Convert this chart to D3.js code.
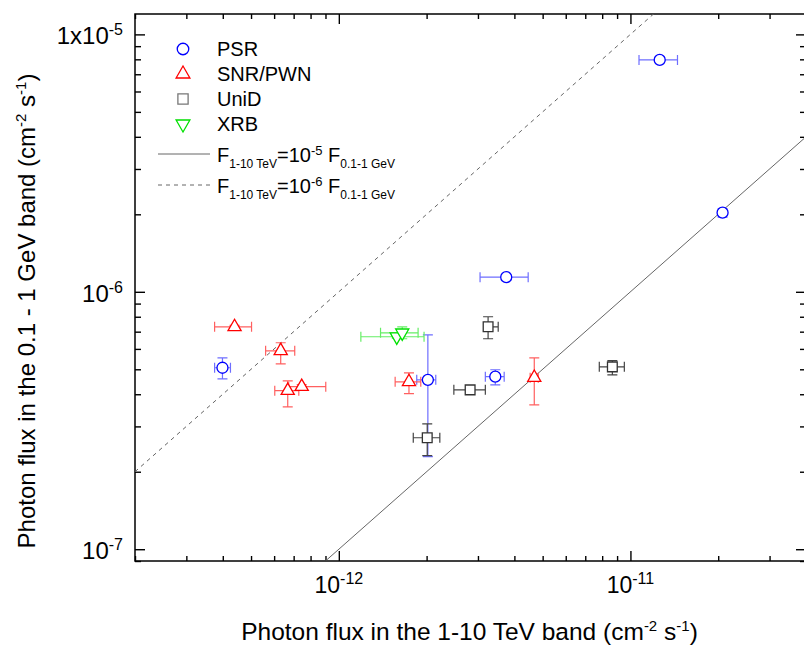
<!DOCTYPE html>
<html>
<head>
<meta charset="utf-8">
<script src="https://cdn.jsdelivr.net/npm/d3@7"></script>
<style>
  body { margin: 0; background: #fff; }
  text { font-family: "Liberation Sans", Arial, sans-serif; fill: #000; }
</style>
</head>
<body>
<svg id="chart" width="804" height="650"></svg>
<script>
// axis ranges
const xDomain = [2e-13, 4e-11];
const yDomain = [9e-8, 1.2e-5];
const xMajor = [1e-12, 1e-11];
const yMajor = [1e-7, 1e-6, 1e-5];
const xTickLabels = [["10", "-12"], ["10", "-11"]];
const yTickLabels = [["10", "-7"], ["10", "-6"], ["1x10", "-5"]];

// rows: [x, xLo, xHi, y, yLo, yHi]
const psr = [
  [1.26e-11, 1.07e-11, 1.45e-11, 7.96e-6, 7.75e-6, 8.2e-6],
  [2.07e-11, 2.02e-11, 2.12e-11, 2.03e-6, 1.95e-6, 2.1e-6],
  [3.75e-12, 3.05e-12, 4.46e-12, 1.14e-6, 1.11e-6, 1.17e-6],
  [3.44e-12, 3.18e-12, 3.69e-12, 4.68e-7, 4.35e-7, 4.98e-7],
  [2.02e-12, 1.85e-12, 2.15e-12, 4.55e-7, 2.29e-7, 6.8e-7],
  [3.99e-13, 3.75e-13, 4.25e-13, 5.07e-7, 4.59e-7, 5.54e-7]
];
const snrPwn = [
  [4.39e-13, 3.75e-13, 5.02e-13, 7.31e-7, 7.2e-7, 7.4e-7],
  [6.32e-13, 5.61e-13, 7.06e-13, 5.9e-7, 5.25e-7, 6.34e-7],
  [6.68e-13, 6.03e-13, 7.29e-13, 4.13e-7, 3.57e-7, 4.51e-7],
  [7.46e-13, 6.73e-13, 9.02e-13, 4.28e-7, 4.2e-7, 4.36e-7],
  [1.74e-12, 1.56e-12, 1.91e-12, 4.47e-7, 4.02e-7, 4.84e-7],
  [4.68e-12, 4.53e-12, 4.83e-12, 4.64e-7, 3.64e-7, 5.54e-7]
];
const unid = [
  [3.25e-12, 3.15e-12, 3.52e-12, 7.31e-7, 6.57e-7, 8.0e-7],
  [2.82e-12, 2.48e-12, 3.18e-12, 4.16e-7, 4.1e-7, 4.22e-7],
  [2.01e-12, 1.8e-12, 2.22e-12, 2.71e-7, 2.31e-7, 3.07e-7],
  [8.67e-12, 7.82e-12, 9.53e-12, 5.11e-7, 4.76e-7, 5.4e-7]
];
const xrb = [
  [1.58e-12, 1.19e-12, 1.96e-12, 6.69e-7, 6.6e-7, 6.78e-7],
  [1.65e-12, 1.39e-12, 1.87e-12, 6.93e-7, 6.57e-7, 7.31e-7]
];
// F(1-10 TeV) = ratio * F(0.1-1 GeV)
const refRatios = [1e-5, 1e-6];
const refExps = ["-5", "-6"];

const plotLeft = 135, plotRight = 806, plotTop = 14, plotBottom = 561;

const svg = d3.select("#chart");
const x = d3.scaleLog().domain(xDomain).range([plotLeft, plotRight]);
const y = d3.scaleLog().domain(yDomain).range([plotBottom, plotTop]);

svg.append("defs").append("clipPath").attr("id", "plotClip")
  .append("rect").attr("x", plotLeft).attr("y", plotTop)
  .attr("width", plotRight - plotLeft).attr("height", plotBottom - plotTop);

// ticks, all pointing inward
const xMinor = x.ticks().filter(v => !xMajor.some(m => Math.abs(m - v) / m < 1e-6));
const yMinor = y.ticks().filter(v => !yMajor.some(m => Math.abs(m - v) / m < 1e-6));

function tickGroup(axis, tx, ty) {
  let g = svg.append("g").attr("transform", "translate(" + tx + "," + ty + ")").call(axis);
  g.select(".domain").remove();
  g.selectAll("line").attr("stroke", "#000").attr("stroke-width", 1.4);
}
tickGroup(d3.axisBottom(x).tickValues(xMinor).tickSize(-5).tickFormat(""), 0, plotBottom);
tickGroup(d3.axisBottom(x).tickValues(xMajor).tickSize(-10).tickFormat(""), 0, plotBottom);
tickGroup(d3.axisTop(x).tickValues(xMinor).tickSize(-5).tickFormat(""), 0, plotTop);
tickGroup(d3.axisTop(x).tickValues(xMajor).tickSize(-10).tickFormat(""), 0, plotTop);
tickGroup(d3.axisLeft(y).tickValues(yMinor).tickSize(-6).tickFormat(""), plotLeft, 0);
tickGroup(d3.axisLeft(y).tickValues(yMajor).tickSize(-10).tickFormat(""), plotLeft, 0);
tickGroup(d3.axisRight(y).tickValues(yMinor).tickSize(-6).tickFormat(""), plotRight, 0);
tickGroup(d3.axisRight(y).tickValues(yMajor).tickSize(-10).tickFormat(""), plotRight, 0);

svg.append("rect")
  .attr("x", plotLeft).attr("y", plotTop)
  .attr("width", plotRight - plotLeft).attr("height", plotBottom - plotTop)
  .attr("fill", "none").attr("stroke", "#000").attr("stroke-width", 1.5);

// tick labels with superscript exponents
xMajor.forEach((v, i) => {
  let t = svg.append("text")
    .attr("x", x(v)).attr("y", plotBottom + 32)
    .attr("text-anchor", "middle").style("font-size", "23px");
  t.append("tspan").text(xTickLabels[i][0]);
  t.append("tspan").attr("dy", -9).style("font-size", "16px").text(xTickLabels[i][1]);
});
yMajor.forEach((v, i) => {
  let t = svg.append("text")
    .attr("x", 123).attr("y", y(v) + 10)
    .attr("text-anchor", "end").style("font-size", "24px");
  t.append("tspan").text(yTickLabels[i][0]);
  t.append("tspan").attr("dy", -9).style("font-size", "16px").text(yTickLabels[i][1]);
});

// axis titles
function unitTitle(t, main) {
  t.append("tspan").text(main + " (cm");
  t.append("tspan").attr("dy", -9).style("font-size", "15px").text("-2");
  t.append("tspan").attr("dy", 9).text(" s");
  t.append("tspan").attr("dy", -9).style("font-size", "15px").text("-1");
  t.append("tspan").attr("dy", 9).text(")");
}
unitTitle(
  svg.append("text").attr("x", (plotLeft + plotRight) / 2 - 1).attr("y", 640)
    .attr("text-anchor", "middle").style("font-size", "24.5px"),
  "Photon flux in the 1-10 TeV band"
);
unitTitle(
  svg.append("text").attr("transform", "translate(35,311) rotate(-90)")
    .attr("text-anchor", "middle").style("font-size", "24px"),
  "Photon flux in the 0.1 - 1 GeV band"
);

const plot = svg.append("g").attr("clip-path", "url(#plotClip)");

// reference lines
const refLine = d3.line().x(d => x(d[0])).y(d => y(d[1]));
refRatios.forEach((r, i) => {
  plot.append("path")
    .datum(xDomain.map(v => [v, v / r]))
    .attr("d", refLine)
    .attr("fill", "none")
    .attr("stroke", "#666")
    .attr("stroke-width", 1)
    .attr("stroke-dasharray", i === 0 ? null : "4,4");
});

const series = [
  { name: "PSR", data: psr, symbol: d3.symbolCircle, size: 95, rot: 0, color: "#0000ff", bar: "#6e6eff" },
  { name: "SNR/PWN", data: snrPwn, symbol: d3.symbolTriangle, size: 75, rot: 0, color: "#ff0000", bar: "#ff6060" },
  { name: "UniD", data: unid, symbol: d3.symbolSquare, size: 95, rot: 0, color: "#333333", bar: "#444444" },
  { name: "XRB", data: xrb, symbol: d3.symbolTriangle, size: 75, rot: 180, color: "#00e000", bar: "#66ee66" }
];

let cap = 5;
series.forEach(s => {
  let bars = plot.append("g").attr("stroke", s.bar).attr("stroke-width", 1.2).attr("fill", "none");
  s.data.forEach(d => {
    let px = x(d[0]), py = y(d[3]);
    let x0 = x(d[1]), x1 = x(d[2]), y0 = y(d[4]), y1 = y(d[5]);
    bars.append("path").attr("d",
      "M" + x0 + "," + py + "H" + x1 +
      "M" + x0 + "," + (py - cap) + "V" + (py + cap) +
      "M" + x1 + "," + (py - cap) + "V" + (py + cap) +
      "M" + px + "," + y0 + "V" + y1 +
      "M" + (px - cap) + "," + y0 + "H" + (px + cap) +
      "M" + (px - cap) + "," + y1 + "H" + (px + cap));
  });
});
series.forEach(s => {
  plot.selectAll(null)
    .data(s.data)
    .enter()
    .append("path")
    .attr("d", d3.symbol().type(s.symbol).size(s.size))
    .attr("transform", d => "translate(" + x(d[0]) + "," + y(d[3]) + ") rotate(" + s.rot + ")")
    .attr("fill", "#fff")
    .attr("stroke", s.color)
    .attr("stroke-width", 1.3);
});

// legend
const legend = svg.append("g");
series.forEach((s, i) => {
  let ly = 49 + i * 25;
  legend.append("path")
    .attr("d", d3.symbol().type(s.symbol).size(s.size * 1.1))
    .attr("transform", "translate(183," + ly + ") rotate(" + s.rot + ")")
    .attr("fill", "#fff")
    .attr("stroke", s.name === "UniD" ? "#777" : s.color)
    .attr("stroke-width", 1.3);
  legend.append("text")
    .attr("x", 217).attr("y", ly + 7)
    .style("font-size", "20px")
    .text(s.name);
});
refRatios.forEach((r, i) => {
  let ly = 154 + i * 31;
  legend.append("line")
    .attr("x1", 158).attr("x2", 210).attr("y1", ly).attr("y2", ly)
    .attr("stroke", "#666").attr("stroke-width", 1)
    .attr("stroke-dasharray", i === 0 ? null : "4,4");
  let t = legend.append("text").attr("x", 217).attr("y", ly + 8).style("font-size", "20px");
  t.append("tspan").text("F");
  t.append("tspan").attr("dy", 6).style("font-size", "12px").text("1-10 TeV");
  t.append("tspan").attr("dy", -6).text("=10");
  t.append("tspan").attr("dy", -7).style("font-size", "13px").text(refExps[i]);
  t.append("tspan").attr("dy", 7).text(" F");
  t.append("tspan").attr("dy", 6).style("font-size", "12px").text("0.1-1 GeV");
});
</script>
</body>
</html>
